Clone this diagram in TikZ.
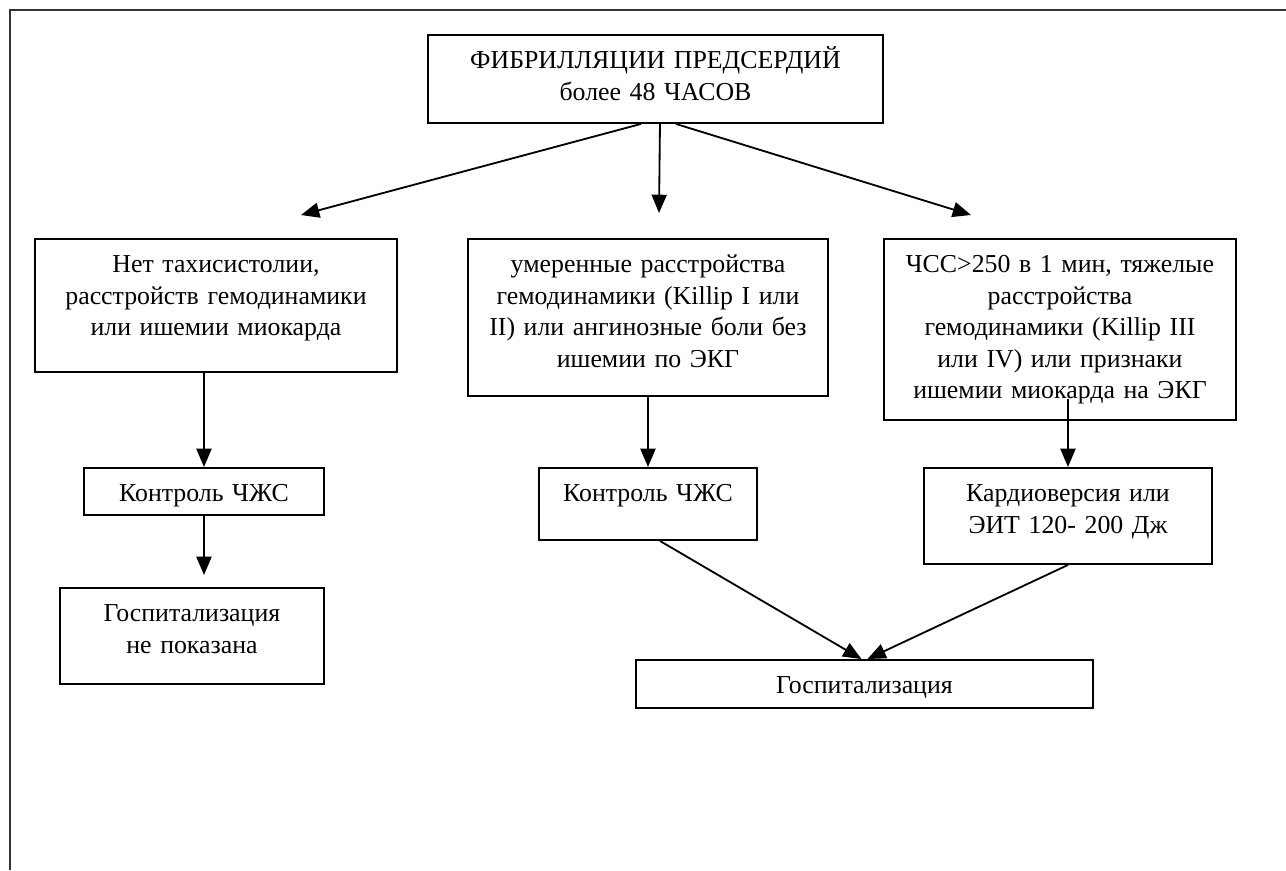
\documentclass[tikz,border=0pt]{standalone}
\usepackage{fontspec}
\setmainfont{Liberation Serif}
\usetikzlibrary{arrows.meta,calc}
\def\pxu{0.01633cm}

\begin{document}
\begin{tikzpicture}[
  x=\pxu, y=-\pxu,
  every node/.style={font=\fontsize{12pt}{14.6pt}\selectfont},
  box/.style n args={2}{draw,line width=0.9pt,anchor=north west,align=center,
    inner xsep=2pt,inner ysep=0pt,text width=#1*\pxu-4pt,
    text height=15.8pt,text depth=#2*\pxu-15.8pt},
  arr/.style={-{Triangle[length=8.5pt,width=7pt]},line width=0.85pt}
]
  \useasboundingbox (0,0) rectangle (1286,870);
  \draw[line width=0.8pt,black!80] (10,870) -- (10,10) -- (1286,10);

  \node[box={455}{88}] (top) at (427,34) {ФИБРИЛЛЯЦИИ ПРЕДСЕРДИЙ\\более 48 ЧАСОВ};
  \node[box={362}{133}] (left1) at (34,238)
    {Нет тахисистолии,\\расстройств гемодинамики\\или ишемии миокарда};
  \node[box={360}{157}] (mid1) at (467,238)
    {умеренные расстройства\\гемодинамики (Killip I или\\II) или ангинозные боли без\\ишемии по ЭКГ};
  \node[box={352}{181}] (right1) at (883,238)
    {ЧСС>250 в 1 мин, тяжелые\\расстройства\\гемодинамики (Killip III\\или IV) или признаки\\ишемии миокарда на ЭКГ};
  \node[box={240}{47}] (ctrlL) at (83,467) {Контроль ЧЖС};
  \node[box={264}{96}] (hospNo) at (59,587) {Госпитализация\\не показана};
  \node[box={218}{72}] (ctrlM) at (538,467) {Контроль ЧЖС};
  \node[box={288}{96}] (cardio) at (923,467) {Кардиоверсия или\\ЭИТ 120- 200 Дж};
  \node[box={457}{48}] (hosp) at (635,659) {Госпитализация};

  % free ends of the upper arrows
  \coordinate (tipL) at (301,215);
  \coordinate (tipM) at (659,213);
  \coordinate (tipR) at (971,215);
  \foreach \dx/\t in {-14.5/tipL,4.5/tipM,20.5/tipR}
    {\draw[arr] ($(top.south)+(\dx,0)$) -- (\t);}

  \draw[arr] (ctrlL.north |- left1.south) -- (ctrlL.north);
  \draw[arr] (ctrlL.south) -- ($(ctrlL.south |- hospNo.north)+(0,-12)$);
  \draw[arr] (mid1.south) -- (mid1.south |- ctrlM.north);
  \draw[arr] ($(cardio.north |- right1.south)+(0,-22)$) -- (cardio.north);
  \draw[arr] ($(ctrlM.south)+(12,0)$) -- ($(hosp.north)+(-3,0)$);
  \draw[arr] (cardio.south) -- ($(hosp.north)+(3,0)$);
\end{tikzpicture}
\end{document}
